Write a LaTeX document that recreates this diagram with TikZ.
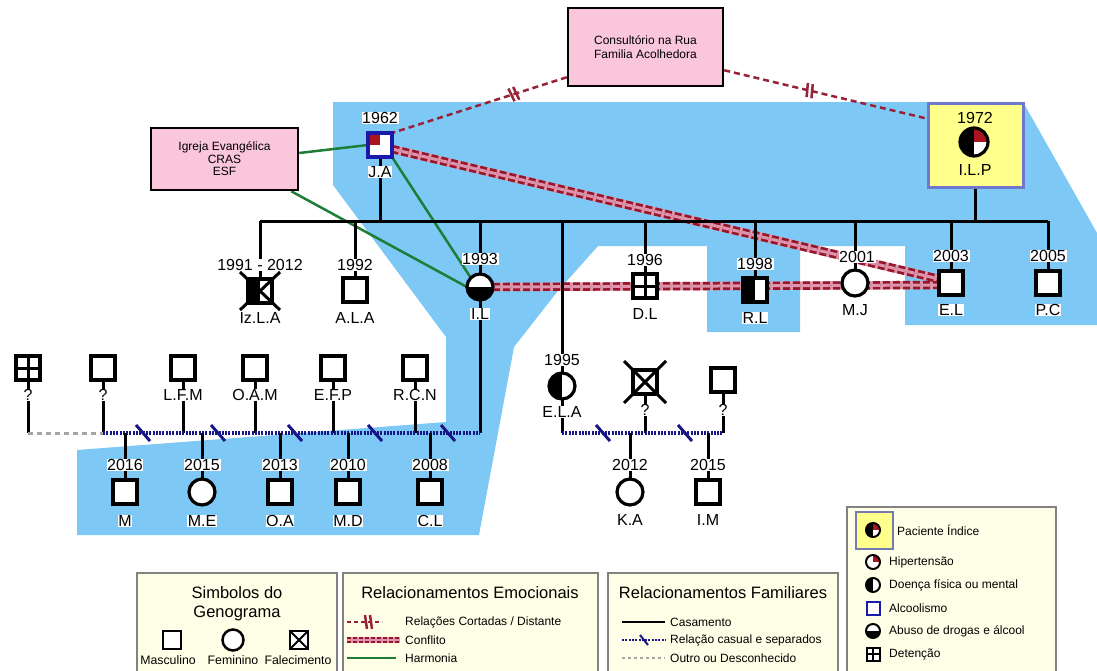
\documentclass[tikz,border=0pt]{standalone}
\usepackage{fontspec}
\setmainfont{Liberation Sans}
\usetikzlibrary{decorations.markings}
\pgfdeclarelayer{bg}
\pgfdeclarelayer{lines}
\pgfsetlayers{bg,lines,main}
\definecolor{bgblue}{RGB}{126,200,246}
\definecolor{pinkfill}{RGB}{250,198,220}
\definecolor{dred}{RGB}{150,22,42}
\definecolor{cutred}{RGB}{150,35,55}
\definecolor{confpink}{RGB}{222,148,172}
\definecolor{harmgreen}{RGB}{30,125,55}
\definecolor{navy}{RGB}{22,22,135}
\definecolor{alcblue}{RGB}{25,25,170}
\definecolor{ipyellow}{RGB}{255,255,140}
\definecolor{ipborder}{RGB}{110,120,205}
\definecolor{legfill}{RGB}{255,255,232}
\definecolor{legborder}{RGB}{130,130,130}
\definecolor{hyper}{RGB}{170,20,30}
\definecolor{unkgray}{RGB}{165,165,165}
\newcommand{\myfs}[1]{\fontsize{#1}{#1}\selectfont}
\begin{document}
\begin{tikzpicture}[x=1pt,y=-1pt,
 sym/.style={draw=black, line width=3.2pt, fill=white, inner sep=0pt, outer sep=0pt},
 male/.style={sym, rectangle, minimum size=24pt},
 female/.style={sym, circle, minimum size=26pt},
 lhalf/.style={path picture={\fill[black] (path picture bounding box.south west) rectangle (path picture bounding box.north);}},
 bhalf/.style={path picture={\fill[black] (path picture bounding box.west) rectangle (path picture bounding box.south east);}},
 hypTR/.style={path picture={\fill[hyper] (path picture bounding box.center) rectangle (path picture bounding box.north east);}},
 hypTL/.style={path picture={\fill[hyper] (path picture bounding box.center) rectangle (path picture bounding box.north west);}},
 ipsym/.style={path picture={\fill[black] (path picture bounding box.south west) rectangle (path picture bounding box.north); \fill[hyper] (path picture bounding box.center) rectangle (path picture bounding box.north east);}},
 detention/.style={path picture={\draw[line width=#1] (path picture bounding box.north) -- (path picture bounding box.south) (path picture bounding box.west) -- (path picture bounding box.east);}},
 detention/.default=3pt,
 xmark/.style={path picture={\draw[line width=#1] (path picture bounding box.north west) -- (path picture bounding box.south east) (path picture bounding box.north east) -- (path picture bounding box.south west);}},
 xmark/.default=2pt,
 lab/.style={fill=white, inner sep=0.7pt, font=\myfs{16}},
 pinkbox/.style={draw=black, line width=2.5pt, fill=pinkfill, inner sep=0pt},
 fam/.style={line width=3pt, draw=black},
 casual/.style={line width=3.5pt, draw=navy, dash pattern=on 2pt off 1.3pt},
 unk/.style={line width=3pt, draw=unkgray, dash pattern=on 5pt off 4pt},
 sepmark/.style={line width=3pt, draw=navy},
 harm/.style={line width=2.5pt, draw=harmgreen},
 cut/.style={line width=2.5pt, draw=cutred, dash pattern=on 6pt off 4pt},
 breakmark/.style={postaction={decorate, decoration={markings, mark=at position #1 with {\draw[solid, line width=2.5pt, draw=cutred] (-3,-7) -- (-1,7) (2,-7) -- (4,7);}}}},
 confbase/.style={line width=8.5pt, draw=confpink},
 confdash/.style={line width=2.7pt, draw=dred, double=confpink, double distance=3pt, dash pattern=on 7pt off 3pt},
 legbox/.style={draw=legborder, fill=legfill, line width=1.2pt},
 legtxt/.style={anchor=west, inner sep=0pt, font=\myfs{12}},
 ttl/.style={inner sep=0pt, font=\myfs{16.5}},
 smalltxt/.style={inner sep=0pt, font=\myfs{12.3}},
 lsq/.style={sym, rectangle, minimum size=13pt, line width=2pt},
 lci/.style={sym, circle, minimum size=14pt, line width=2pt}
]
\useasboundingbox (0,0) rectangle (1097,670);
\begin{pgfonlayer}{bg}
\fill[white] (0,0) rectangle (1097,670);
\fill[bgblue] (333,102) -- (1023,102) -- (1097,233) -- (1097,325) -- (905,325) -- (905,246) -- (800,246) -- (800,332) -- (707,332) -- (707,246) -- (598,246) -- (557,292) -- (514,347) -- (479,535) -- (77,535) -- (77,450) -- (446,422) -- (446,337) -- (333,185) -- cycle;
\draw[legbox] (847,507) rectangle (1056,690);
\draw[legbox] (137,573) rectangle (337,690);
\draw[legbox] (343,573) rectangle (598,690);
\draw[legbox] (608,573) rectangle (838,690);
\end{pgfonlayer}

% boxes
\node[pinkbox, minimum width=155pt, minimum height=78pt, align=center, font=\fontsize{12}{13.5}\selectfont] (CR) at (645.5,47) {Consultório na Rua\\Familia Acolhedora};
\node[pinkbox, minimum width=147pt, minimum height=62pt, align=center, font=\fontsize{12}{12.5}\selectfont] (IG) at (224.5,159) {Igreja Evangélica\\CRAS\\ESF};
\node[draw=ipborder, fill=ipyellow, line width=3pt, minimum width=95pt, minimum height=84pt, inner sep=0pt] (ILPbox) at (975.5,145) {};

% generation 1
\node[male, draw=alcblue, line width=3.5pt, hypTL] (JA) at (380,145) {};
\node[lab] (yJA) at (380,118) {1962};
\node[lab] (nJA) at (380,172) {J.A};
\node[female, ipsym, minimum size=28pt] (ILP) at (974,142) {};
\node[lab, fill=none] (yILP) at (975,118) {1972};
\node[lab, fill=none] (nILP) at (975,170) {I.L.P};

% generation 2
\coordinate (sibL) at (260,221);
\coordinate (sibR) at (1048,221);
\node[male, lhalf] (IzLA) at (260,291) {};
\draw[line width=3pt] ([shift={(-20,-19)}]IzLA.center) -- ([shift={(20,19)}]IzLA.center) ([shift={(20,-19)}]IzLA.center) -- ([shift={(-20,19)}]IzLA.center);
\node[lab] (yIzLA) at (260,265) {1991 - 2012};
\node[lab] (nIzLA) at (260,318) {Iz.L.A};
\node[male] (ALA) at (355,290) {};
\node[lab] (yALA) at (355,265) {1992};
\node[lab] (nALA) at (355,318) {A.L.A};
\node[female, bhalf] (IL) at (480,287) {};
\node[lab] (yIL) at (480,259) {1993};
\node[lab] (nIL) at (480,314) {I.L};
\node[female, lhalf] (ELA) at (562,386) {};
\node[lab] (yELA) at (562,360) {1995};
\node[lab] (nELA) at (562,412) {E.L.A};
\node[male, detention] (DL) at (645,286) {};
\node[lab] (yDL) at (645,260) {1996};
\node[lab] (nDL) at (645,314) {D.L};
\node[male, lhalf] (RL) at (755,290) {};
\node[lab] (yRL) at (755,264) {1998};
\node[lab] (nRL) at (755,318) {R.L};
\node[female] (MJ) at (855,283) {};
\node[lab] (yMJ) at (857,257) {2001};
\node[lab] (nMJ) at (855,310) {M.J};
\node[male] (EL) at (951,283) {};
\node[lab] (yEL) at (951,256) {2003};
\node[lab] (nEL) at (951,310) {E.L};
\node[male] (PC) at (1048,283) {};
\node[lab] (yPC) at (1048,256) {2005};
\node[lab] (nPC) at (1048,310) {P.C};

% generation 3 left
\coordinate (plA) at (28,433);
\node[male, detention] (P0) at (28,368) {};
\node[lab] (nP0) at (28,395) {?};
\node[male] (P1) at (103,368) {};
\node[lab] (nP1) at (103,395) {?};
\node[male] (P2) at (183,368) {};
\node[lab] (nP2) at (183,395) {L.F.M};
\node[male] (P3) at (255,368) {};
\node[lab] (nP3) at (255,395) {O.A.M};
\node[male] (P4) at (333,368) {};
\node[lab] (nP4) at (333,395) {E.F.P};
\node[male] (P5) at (415,368) {};
\node[lab] (nP5) at (415,395) {R.C.N};
\node[male] (C1) at (125,492) {};
\node[lab] (yC1) at (125,465) {2016};
\node[lab] (nC1) at (125,521) {M};
\node[female] (C2) at (202,492) {};
\node[lab] (yC2) at (202,465) {2015};
\node[lab] (nC2) at (202,521) {M.E};
\node[male] (C3) at (280,492) {};
\node[lab] (yC3) at (280,465) {2013};
\node[lab] (nC3) at (280,521) {O.A};
\node[male] (C4) at (348,492) {};
\node[lab] (yC4) at (348,465) {2010};
\node[lab] (nC4) at (348,521) {M.D};
\node[male] (C5) at (430,492) {};
\node[lab] (yC5) at (430,465) {2008};
\node[lab] (nC5) at (430,521) {C.L};

% generation 3 right
\coordinate (plB) at (562,433);
\node[male] (X1) at (645,382) {};
\draw[line width=3pt] ([shift={(-21,-21)}]X1.center) -- ([shift={(21,21)}]X1.center) ([shift={(21,-21)}]X1.center) -- ([shift={(-21,21)}]X1.center);
\node[lab] (nX1) at (645,410) {?};
\node[male] (X2) at (723,380) {};
\node[lab] (nX2) at (723,410) {?};
\node[female] (KA) at (630,492) {};
\node[lab] (yKA) at (630,465) {2012};
\node[lab] (nKA) at (630,520) {K.A};
\node[male] (IM) at (708,492) {};
\node[lab] (yIM) at (708,465) {2015};
\node[lab] (nIM) at (708,520) {I.M};

% legend right
\node[draw=ipborder!60!gray, fill=ipyellow, line width=2pt, minimum size=37pt, inner sep=0pt] (lgPIb) at (874,530.5) {};
\node[lci, ipsym] (lgPIs) at (873,530) {};
\node[legtxt] (lgPIt) at (897,530) {Paciente Índice};
\node[lci, hypTR] (lgH) at (873,562) {};
\node[legtxt] (lgHt) at (889,562) {Hipertensão};
\node[lci, lhalf] (lgD) at (873,585) {};
\node[legtxt] (lgDt) at (889,585) {Doença física ou mental};
\node[lsq, draw=alcblue] (lgA) at (873,608) {};
\node[legtxt] (lgAt) at (889,608) {Alcoolismo};
\node[lci, bhalf] (lgB) at (873,631) {};
\node[legtxt] (lgBt) at (889,631) {Abuso de drogas e álcool};
\node[lsq, detention=2pt] (lgT) at (873,654) {};
\node[legtxt] (lgTt) at (889,654) {Detenção};

% legend bottom 1
\node[ttl] (t1a) at (237,593) {Simbolos do};
\node[ttl] (t1b) at (237,613) {Genograma};
\node[sym, rectangle, minimum size=18pt, line width=2.5pt] (lgM) at (172,640) {};
\node[sym, circle, minimum size=21pt, line width=2.5pt] (lgF) at (233,640) {};
\node[sym, rectangle, minimum size=18pt, line width=2pt, xmark] (lgX) at (299,640) {};
\node[smalltxt] (lgMt) at (168,660) {Masculino};
\node[smalltxt] (lgFt) at (233,660) {Feminino};
\node[smalltxt] (lgXt) at (298,660) {Falecimento};

% legend bottom 2
\node[ttl] (t2) at (470,593) {Relacionamentos Emocionais};
\coordinate (e1a) at (347,622); \coordinate (e1b) at (382,622);
\coordinate (e2a) at (347,640); \coordinate (e2b) at (400,640);
\coordinate (e3a) at (347,658); \coordinate (e3b) at (396,658);
\node[legtxt] (e1t) at (405,622) {Relações Cortadas / Distante};
\node[legtxt] (e2t) at (405,640) {Conflito};
\node[legtxt] (e3t) at (405,658) {Harmonia};

% legend bottom 3
\node[ttl] (t3) at (723,593) {Relacionamentos Familiares};
\coordinate (f1a) at (622,622); \coordinate (f1b) at (665,622);
\coordinate (f2a) at (622,640); \coordinate (f2b) at (665,640);
\coordinate (f3a) at (622,658); \coordinate (f3b) at (665,658);
\node[legtxt] (f1t) at (670,622) {Casamento};
\node[legtxt] (f2t) at (670,640) {Relação casual e separados};
\node[legtxt] (f3t) at (670,658) {Outro ou Desconhecido};

\begin{pgfonlayer}{lines}
% conflicts
\draw[confbase] ([shift={(0,4)}]JA.east) -- ([shift={(0,-4)}]EL.west);
\draw[confbase] (IL.east) -- ([shift={(0,2)}]EL.west);
\draw[confdash] ([shift={(0,4)}]JA.east) -- ([shift={(0,-4)}]EL.west);
\draw[confdash] (IL.east) -- ([shift={(0,2)}]EL.west);
% harmony
\draw[harm] ([shift={(0,-6)}]IG.east) -- (JA.west);
\draw[harm] ([shift={(-8,0)}]IG.south east) -- (IL.west);
\draw[harm] (JA.south east) -- (IL.north west);
% cut
\draw[cut, breakmark=0.3] ([shift={(0,-10)}]CR.south west) -- (JA.north east);
\draw[cut, breakmark=0.42] ([shift={(0,-17)}]CR.south east) -- ([shift={(0,17)}]ILPbox.north west);
% family
\draw[fam] (sibL) -- (sibR);
\draw[fam] (JA.south) -- (JA.south |- sibL);
\draw[fam] (ILPbox.south) -- (ILPbox.south |- sibL);
\foreach \c in {IzLA,ALA,IL,ELA,DL,RL,MJ,EL,PC} {\draw[fam] (\c.north |- sibL) -- (\c.north);}
% lower left
\foreach \p in {P0,P1,P2,P3,P4,P5} {\draw[fam] (\p.south) -- (\p.south |- plA);}
\draw[fam] (IL.south) -- (IL.south |- plA);
\draw[unk] (P0.south |- plA) -- (P1.south |- plA);
\draw[casual] (P1.south |- plA) -- (IL.south |- plA);
\foreach \c in {C1,C2,C3,C4,C5} {\draw[fam] (\c.north |- plA) -- (\c.north);}
\foreach \sx in {143,218,295,375,448} {\draw[sepmark] (\sx-7,425) -- (\sx+7,441);}
% lower right
\foreach \p in {ELA,X1,X2} {\draw[fam] (\p.south) -- (\p.south |- plB);}
\draw[casual] (ELA.south |- plB) -- (X2.south |- plB);
\foreach \c in {KA,IM} {\draw[fam] (\c.north |- plB) -- (\c.north);}
\foreach \sx in {603,685} {\draw[sepmark] (\sx-7,425) -- (\sx+7,441);}
% legend samples
\draw[cut, line width=2pt, dash pattern=on 4pt off 3pt, breakmark=0.6] (e1a) -- (e1b);
\draw[confbase, line width=6pt] (e2a) -- (e2b);
\draw[confdash, line width=1.6pt, double distance=2.5pt, dash pattern=on 4pt off 2pt] (e2a) -- (e2b);
\draw[harm, line width=2pt] (e3a) -- (e3b);
\draw[fam, line width=2pt] (f1a) -- (f1b);
\draw[casual, line width=2pt] (f2a) -- (f2b);
\draw[sepmark, line width=2pt] (640,635) -- (648,645);
\draw[unk, line width=2pt, dash pattern=on 3pt off 3pt] (f3a) -- (f3b);
\end{pgfonlayer}
\end{tikzpicture}
\end{document}
